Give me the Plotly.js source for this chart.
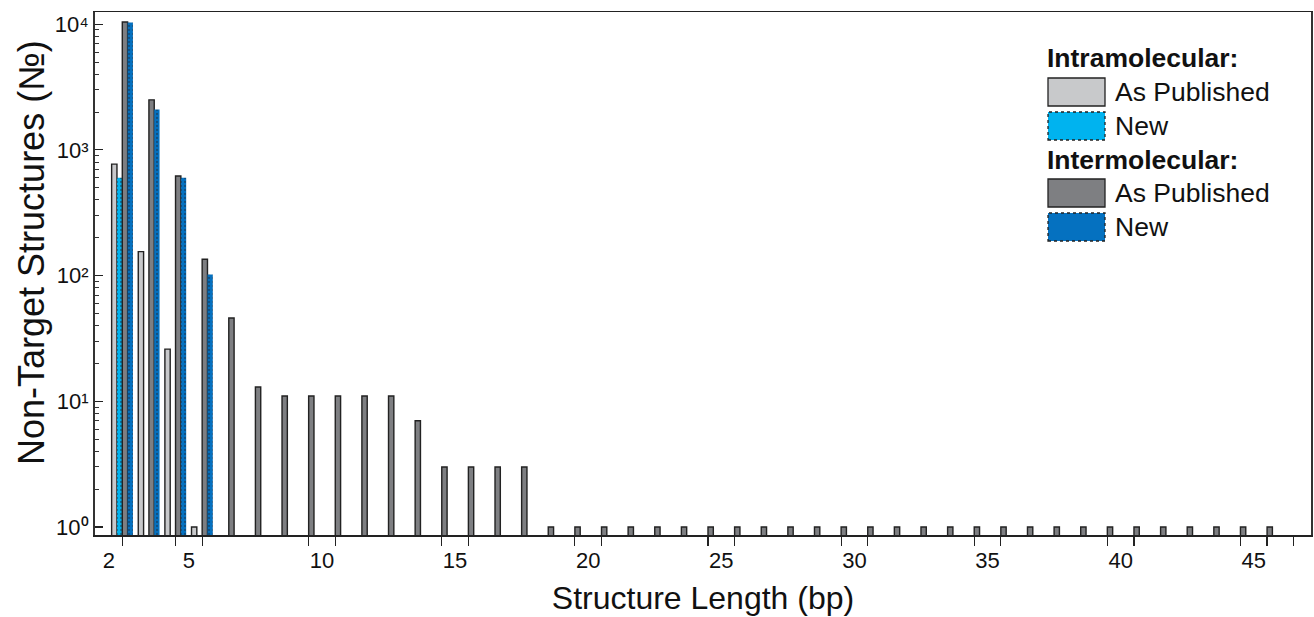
<!DOCTYPE html>
<html>
<head>
<meta charset="utf-8">
<script src="https://cdn.plot.ly/plotly-3.0.1.min.js"></script>
<style>html,body{margin:0;padding:0;background:#fff}</style>
</head>
<body>
<div id="chart" style="width:1314px;height:617px"></div>
<script>
// ---- data ----
const lengths = [2,3,4,5,6,7,8,9,10,11,12,13,14,15,16,17,18,19,20,21,22,23,24,25,26,27,28,29,30,31,32,33,34,35,36,37,38,39,40,41,42,43,44,45];
const intraPublished = [770,155,26,1,null,null,null,null,null,null,null,null,null,null,null,null,null,null,null,null,null,null,null,null,null,null,null,null,null,null,null,null,null,null,null,null,null,null,null,null,null,null,null,null];
const intraNew = [600,null,null,null,null,null,null,null,null,null,null,null,null,null,null,null,null,null,null,null,null,null,null,null,null,null,null,null,null,null,null,null,null,null,null,null,null,null,null,null,null,null,null,null];
const interPublished = [10400,2500,620,135,46,13,11,11,11,11,11,7,3,3,3,3,1,1,1,1,1,1,1,1,1,1,1,1,1,1,1,1,1,1,1,1,1,1,1,1,1,1,1,1];
const interNew = [10300,2100,600,102,null,null,null,null,null,null,null,null,null,null,null,null,null,null,null,null,null,null,null,null,null,null,null,null,null,null,null,null,null,null,null,null,null,null,null,null,null,null,null,null];
const xTickLabels = [2,5,10,15,20,25,30,35,40,45];
const yTickValues = [1,10,100,1000,10000];
const yTickLabels = ['10⁰','10¹','10²','10³','10⁴'];
const legendGroups = ['Intramolecular:','Intermolecular:'];
const legendNames = ['As Published','New'];
const xTitle = 'Structure Length (bp)';
const yTitle = 'Non-Target Structures (№)';

// ---- styling ----
const FONT = 'Liberation Sans, Arial, Helvetica, sans-serif';
const C_INTRA_PUB = '#c8c9cb';
const C_INTRA_NEW = '#00b3ef';
const C_INTER_PUB = '#7e7f82';
const C_INTER_NEW = '#0571c0';
const OUTLINE = '#222';

const xPos = lengths.map(L => L + 0.5);

function barTrace(y, fill, dotted) {
  const m = {color: fill, line: {color: OUTLINE, width: dotted ? 0 : 1.4}};
  if (dotted) {
    m.pattern = {shape: '.', fgcolor: '#1b2a3a', bgcolor: fill, size: 4, solidity: 0.25, fillmode: 'overlay'};
  }
  return {type: 'bar', x: xPos, y: y, marker: m, showlegend: false, hoverinfo: 'x+y'};
}

const traces = [
  barTrace(intraPublished, C_INTRA_PUB, false),
  barTrace(intraNew, C_INTRA_NEW, true),
  barTrace(interPublished, C_INTER_PUB, false),
  barTrace(interNew, C_INTER_NEW, true)
];

// minor tick positions
const bottomMinor = [];
xTickLabels.forEach(v => { if (v > 2) bottomMinor.push(v - 0.5); bottomMinor.push(v + 0.5); });
bottomMinor.push(46.5);
const topTicks = lengths.map(L => L + 0.5);
const yMinor = [];
[1,10,100,1000].forEach(d => { for (let m = 2; m <= 9; m++) yMinor.push(m * d); });

// plot area in pixels (for the hand-drawn legend)
const L0 = 95, R0 = 1311, T0 = 12, B0 = 535;
const px = x => (x - L0) / (R0 - L0);
const py = y => (B0 - y) / (B0 - T0);

const shapes = [];
const annotations = [];
const swatches = [
  {top: 78, fill: C_INTRA_PUB, dash: 'solid'},
  {top: 112, fill: C_INTRA_NEW, dash: 'dot'},
  {top: 179, fill: C_INTER_PUB, dash: 'solid'},
  {top: 213, fill: C_INTER_NEW, dash: 'dot'}
];
swatches.forEach((s, i) => {
  shapes.push({type: 'rect', xref: 'paper', yref: 'paper', x0: px(1048), x1: px(1105), y0: py(s.top + 28), y1: py(s.top),
    fillcolor: s.fill, line: {color: OUTLINE, width: 1.3, dash: s.dash}});
  annotations.push({xref: 'paper', yref: 'paper', x: px(1113), y: py(s.top + 14), xanchor: 'left', yanchor: 'middle',
    text: legendNames[i % 2], showarrow: false, font: {family: FONT, size: 26.5, color: '#111'}});
});
[58, 160].forEach((yy, i) => {
  annotations.push({xref: 'paper', yref: 'paper', x: px(1045), y: py(yy), xanchor: 'left', yanchor: 'middle',
    text: legendGroups[i], showarrow: false, font: {family: FONT, size: 26.5, color: '#111', weight: 'bold'}});
});
// y-axis title (placed as in the reference, slightly above the plot centre)
annotations.push({xref: 'paper', yref: 'paper', x: px(31), y: py(253), xanchor: 'center', yanchor: 'middle',
  textangle: -90, text: yTitle, showarrow: false, font: {family: FONT, size: 36, color: '#111'}});

const layout = {
  width: 1314, height: 617,
  margin: {l: L0, r: 1314 - R0, t: T0, b: 617 - B0},
  paper_bgcolor: '#fff', plot_bgcolor: '#fff',
  barmode: 'group', bargap: 0.2, bargroupgap: 0,
  showlegend: false,
  font: {family: FONT, color: '#111'},
  xaxis: {
    range: [1.475, 47.15], showgrid: false, zeroline: false,
    showline: true, linecolor: '#222', linewidth: 1.5, mirror: true,
    tickmode: 'array', tickvals: xTickLabels, ticktext: xTickLabels.map(String),
    ticks: 'outside', ticklen: 5, tickcolor: 'rgba(0,0,0,0)',
    tickfont: {family: FONT, size: 22, color: '#111'},
    minor: {tickmode: 'array', tickvals: bottomMinor, ticks: 'outside', ticklen: 9, tickwidth: 1.2, tickcolor: '#222'},
    title: {text: xTitle, font: {family: FONT, size: 32, color: '#111'}, standoff: 14}
  },
  xaxis2: {
    overlaying: 'x', side: 'top', anchor: 'y', range: [1.475, 47.15],
    showgrid: false, zeroline: false, showline: false,
    tickmode: 'array', tickvals: topTicks, ticks: 'inside', ticklen: 8, tickwidth: 1.2, tickcolor: '#222',
    showticklabels: false
  },
  yaxis: {
    type: 'log', range: [-0.064, 4.097], showgrid: false, zeroline: false,
    showline: true, linecolor: '#333', linewidth: 2, mirror: true,
    tickmode: 'array', tickvals: yTickValues, ticktext: yTickLabels,
    ticks: 'inside', ticklen: 8, tickwidth: 1.2, tickcolor: '#222',
    tickfont: {family: FONT, size: 22, color: '#111'},
    minor: {tickmode: 'array', tickvals: yMinor, ticks: 'inside', ticklen: 4, tickwidth: 1, tickcolor: '#333'}
  },
  yaxis2: {
    overlaying: 'y', side: 'right', anchor: 'x', type: 'log', range: [-0.064, 4.097],
    showgrid: false, zeroline: false, showline: false,
    tickmode: 'array', tickvals: yTickValues, ticks: 'inside', ticklen: 6, tickwidth: 1.2, tickcolor: '#222',
    showticklabels: false
  },
  shapes: shapes,
  annotations: annotations
};

Plotly.newPlot('chart', traces, layout, {displayModeBar: false, staticPlot: true});
</script>
</body>
</html>
